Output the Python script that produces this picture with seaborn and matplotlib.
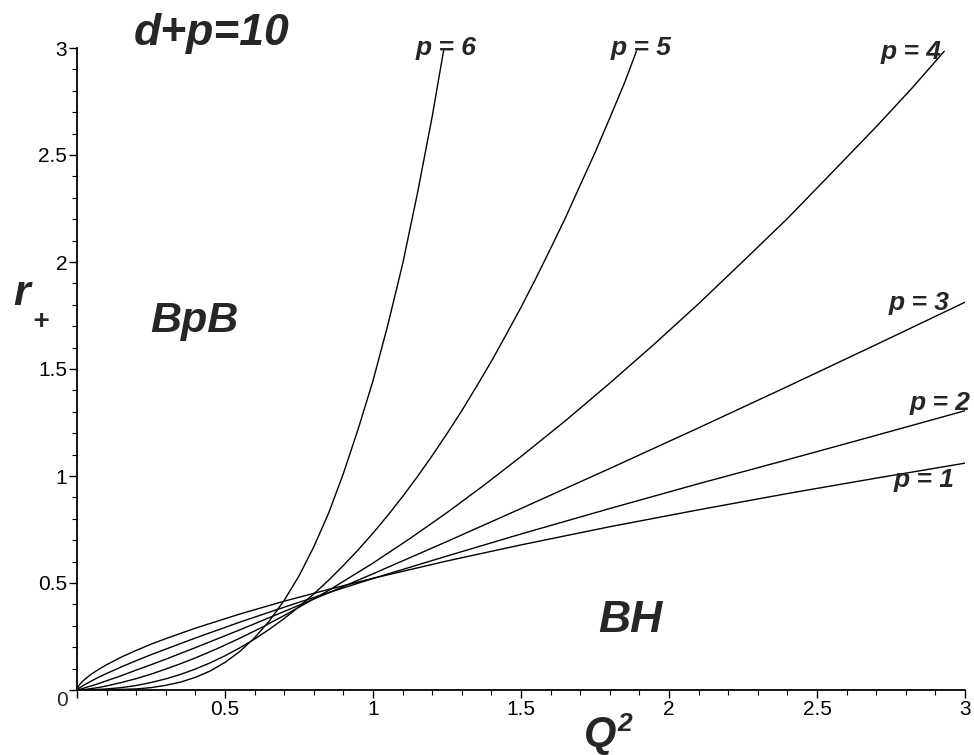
import matplotlib
matplotlib.use("Agg")
import matplotlib.pyplot as plt
import numpy as np
import pandas as pd
import seaborn as sns

# ---- data (Q^2, r_+) ----
q_p1 = [0, 0.005, 0.01, 0.02, 0.03, 0.05, 0.075, 0.1, 0.15, 0.2, 0.25, 0.3, 0.4, 0.55, 0.7, 0.85, 1.0,
        1.25, 1.5, 1.8, 2.1, 2.4, 2.7, 3.0]
r_p1 = [0, 0.017, 0.027, 0.042, 0.054, 0.076, 0.098, 0.118, 0.154, 0.185, 0.214, 0.240, 0.289, 0.355,
        0.415, 0.470, 0.522, 0.603, 0.678, 0.763, 0.842, 0.918, 0.990, 1.060]

q_p2 = [0, 0.005, 0.01, 0.02, 0.03, 0.05, 0.075, 0.1, 0.15, 0.2, 0.25, 0.3, 0.4, 0.55, 0.7, 0.85, 1.0,
        1.25, 1.5, 1.8, 2.1, 2.4, 2.7, 3.0]
r_p2 = [0, 0.006, 0.011, 0.020, 0.028, 0.043, 0.061, 0.077, 0.108, 0.137, 0.165, 0.191, 0.243, 0.317,
        0.387, 0.455, 0.521, 0.626, 0.729, 0.848, 0.964, 1.076, 1.190, 1.305]

q_p3 = [0, 0.005, 0.01, 0.02, 0.03, 0.05, 0.075, 0.1, 0.15, 0.2, 0.25, 0.3, 0.4, 0.55, 0.7, 0.85, 1.0,
        1.25, 1.5, 1.8, 2.1, 2.4, 2.7, 3.0]
r_p3 = [0, 0.002, 0.003, 0.007, 0.012, 0.020, 0.031, 0.043, 0.067, 0.093, 0.118, 0.144, 0.198, 0.281,
        0.367, 0.454, 0.543, 0.694, 0.848, 1.035, 1.225, 1.418, 1.614, 1.812]

q_p4 = [0, 0.025, 0.05, 0.075, 0.1, 0.15, 0.2, 0.25, 0.3, 0.35, 0.4, 0.475, 0.55, 0.625, 0.7, 0.85, 1.0,
        1.125, 1.25, 1.375, 1.5, 1.65, 1.8, 1.95, 2.1, 2.25, 2.4, 2.55, 2.7, 2.82, 2.93]
r_p4 = [0, 0.002, 0.007, 0.012, 0.019, 0.035, 0.053, 0.074, 0.098, 0.123, 0.150, 0.194, 0.242, 0.293,
        0.348, 0.465, 0.593, 0.708, 0.829, 0.957, 1.091, 1.258, 1.434, 1.616, 1.805, 2.003, 2.203,
        2.417, 2.632, 2.811, 2.985]

q_p5 = [0, 0.05, 0.1, 0.15, 0.2, 0.25, 0.3, 0.35, 0.4, 0.45, 0.5, 0.55, 0.6, 0.65, 0.7, 0.75, 0.8, 0.85,
        0.9, 0.95, 1.0, 1.05, 1.1, 1.15, 1.2, 1.25, 1.3, 1.35, 1.4, 1.45, 1.5, 1.55, 1.6, 1.65, 1.7,
        1.75, 1.8, 1.85, 1.89]
r_p5 = [0, 0.001, 0.005, 0.011, 0.021, 0.035, 0.052, 0.073, 0.098, 0.127, 0.160, 0.197, 0.238, 0.284,
        0.334, 0.389, 0.449, 0.513, 0.582, 0.655, 0.733, 0.816, 0.904, 0.997, 1.095, 1.198, 1.305,
        1.419, 1.536, 1.661, 1.788, 1.923, 2.063, 2.206, 2.359, 2.511, 2.673, 2.838, 2.985]

q_p6 = [0, 0.1, 0.2, 0.25, 0.3, 0.35, 0.4, 0.45, 0.5, 0.55, 0.6, 0.65, 0.7, 0.75, 0.8, 0.85, 0.9, 0.95,
        1.0, 1.05, 1.1, 1.15, 1.2, 1.24]
r_p6 = [0, 0.0005, 0.005, 0.011, 0.022, 0.037, 0.059, 0.089, 0.129, 0.180, 0.244, 0.323, 0.419, 0.533,
        0.669, 0.826, 1.012, 1.220, 1.445, 1.705, 1.990, 2.320, 2.680, 3.000]

p_values = [1, 2, 3, 4, 5, 6]
curve_q = [q_p1, q_p2, q_p3, q_p4, q_p5, q_p6]
curve_r = [r_p1, r_p2, r_p3, r_p4, r_p5, r_p6]

# label anchor positions (data coords)
label_x = [2.863, 2.916, 2.845, 2.818, 1.905, 1.247]
label_y = [0.949, 1.308, 1.776, 2.949, 2.967, 2.967]

x_ticks = [0.5, 1, 1.5, 2, 2.5, 3]
x_ticklabels = ["0.5", "1", "1.5", "2", "2.5", "3"]
y_ticks = [0.5, 1, 1.5, 2, 2.5, 3]
y_ticklabels = ["0.5", "1", "1.5", "2", "2.5", "3"]

frames = [pd.DataFrame({"Q2": q, "r": r, "p": p}) for p, q, r in zip(p_values, curve_q, curve_r)]
df = pd.concat(frames, ignore_index=True)

sns.set_style("white")
plt.rcParams["font.family"] = ["Liberation Sans", "DejaVu Sans"]

fig = plt.figure(figsize=(9.74, 7.55), dpi=100)
ax = fig.add_axes([77 / 974, 65 / 755, 888 / 974, 642 / 755])

sns.lineplot(data=df, x="Q2", y="r", units="p", estimator=None, color="black",
             linewidth=1.0, ax=ax, legend=False)

ax.set_xlim(0, 3)
ax.set_ylim(0, 3)
ax.set_xlabel("")
ax.set_ylabel("")

for s in ["top", "right"]:
    ax.spines[s].set_visible(False)
for s in ["left", "bottom"]:
    ax.spines[s].set_color("black")
    ax.spines[s].set_linewidth(1.3)

ax.set_xticks([0] + x_ticks)
ax.set_xticklabels([""] + x_ticklabels)
ax.set_yticks([0] + y_ticks)
ax.set_yticklabels([""] + y_ticklabels)
ax.xaxis.set_minor_locator(matplotlib.ticker.MultipleLocator(0.1))
ax.yaxis.set_minor_locator(matplotlib.ticker.MultipleLocator(0.1))
ax.tick_params(which="major", direction="out", length=6, width=1, colors="black",
               labelsize=15, pad=1, bottom=True, left=True)
ax.tick_params(which="minor", direction="out", length=3.5, width=0.8, colors="black",
               bottom=True, left=True)

# corner zero
ax.text(-0.051, -0.047, "0", ha="center", va="center", fontsize=15, clip_on=False)

# curve labels
for p, lx, ly in zip(p_values, label_x, label_y):
    ax.text(lx, ly, f"p = {p}", ha="center", va="baseline", fontsize=19,
            fontstyle="italic", fontweight="bold", clip_on=False)

# region labels
bi = dict(fontstyle="italic", fontweight="bold", clip_on=False)
ax.text(0.456, 3.014, "d+p=10", ha="center", va="baseline", fontsize=32, **bi)
ax.text(0.395, 1.673, "BpB", ha="center", va="baseline", fontsize=31, **bi)
ax.text(1.868, 0.271, "BH", ha="center", va="baseline", fontsize=32, **bi)

# axis labels
ax.text(-0.186, 1.799, "r", ha="center", va="baseline", fontsize=31, **bi)
ax.text(-0.125, 1.72, "+", ha="center", va="center", fontsize=20, **bi)
ax.text(1.767, -0.262, "Q", ha="center", va="baseline", fontsize=30, **bi)
ax.text(1.851, -0.160, "2", ha="center", va="center", fontsize=19, **bi)

fig.savefig("out.png", dpi=100)
